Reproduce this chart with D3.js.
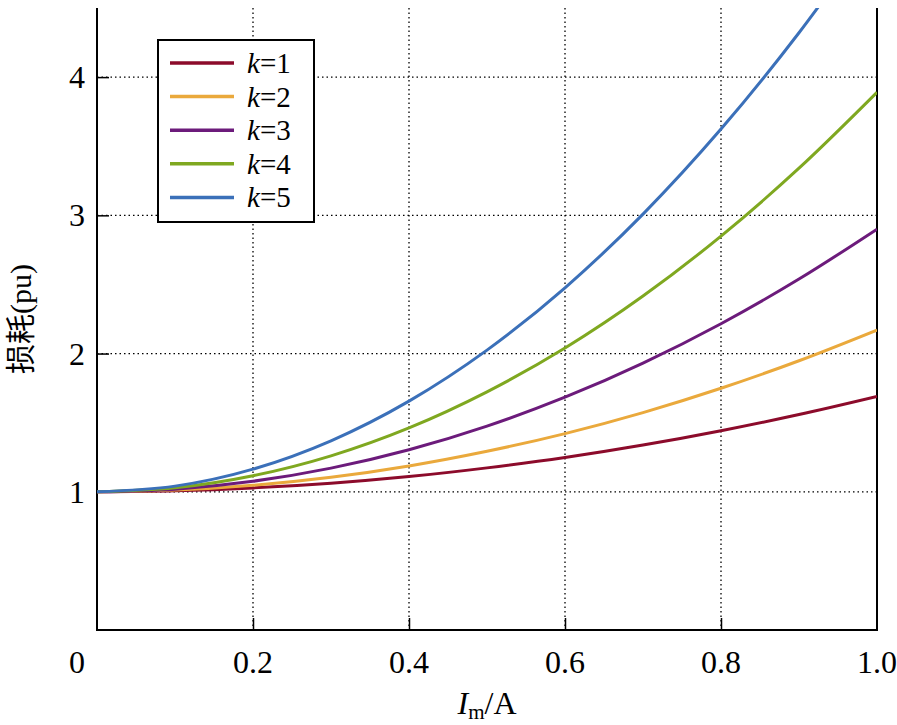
<!DOCTYPE html>
<html>
<head>
<meta charset="utf-8">
<script src="https://cdn.jsdelivr.net/npm/d3@7"></script>
<style>
  body { margin: 0; background: #fff; }
</style>
</head>
<body>
<svg id="chart"></svg>
<script>
// current (A) along x
var xs = [0, 0.1, 0.2, 0.3, 0.4, 0.5, 0.6, 0.7, 0.8, 0.9, 1.0]
// loss (pu) per k
var k1 = [1, 1.007, 1.028, 1.062, 1.11, 1.173, 1.248, 1.338, 1.442, 1.559, 1.69]
var k2 = [1, 1.012, 1.047, 1.105, 1.187, 1.293, 1.421, 1.573, 1.749, 1.948, 2.17]
var k3 = [1, 1.019, 1.076, 1.171, 1.304, 1.475, 1.684, 1.931, 2.216, 2.539, 2.90]
var k4 = [1, 1.029, 1.116, 1.26, 1.462, 1.723, 2.04, 2.416, 2.85, 3.341, 3.89]
var k5 = [1, 1.041, 1.164, 1.369, 1.656, 2.025, 2.476, 3.009, 3.624, 4.321, 5.10]
var seriesNames = ["1", "2", "3", "4", "5"]
var xTicks = [0, 0.2, 0.4, 0.6, 0.8, 1.0]
var yTicks = [1, 2, 3, 4]

var colors = ["#8c0b2b", "#eaa93c", "#6c1b7b", "#7fa820", "#3b70b9"]
var series = [k1, k2, k3, k4, k5]
var serif = "'Liberation Serif', 'Times New Roman', serif"

var W = 897, H = 725
var margin = {top: 8, right: 20, bottom: 95, left: 97}
  , width = W - margin.left - margin.right
  , height = H - margin.top - margin.bottom

var svg = d3.select("#chart").attr("width", W).attr("height", H)

var x = d3.scaleLinear().domain([0, 1]).range([0, width])
var y = d3.scaleLinear().domain([0, 4.5]).range([height, 0])

var g = svg.append("g").attr("transform", "translate(" + margin.left + "," + margin.top + ")")

g.append("clipPath").attr("id", "clip")
  .append("rect").attr("width", width).attr("height", height)

// dotted grid
g.selectAll(".vgrid").data(xTicks.filter(function (d) { return d > 0 && d < 1 }))
  .enter().append("line")
  .attr("x1", function (d) { return x(d) }).attr("x2", function (d) { return x(d) })
  .attr("y1", 0).attr("y2", height)
  .attr("stroke", "#000").attr("stroke-width", 1.3).attr("stroke-dasharray", "1.5,3")
g.selectAll(".hgrid").data(yTicks)
  .enter().append("line")
  .attr("y1", function (d) { return y(d) }).attr("y2", function (d) { return y(d) })
  .attr("x1", 0).attr("x2", width)
  .attr("stroke", "#000").attr("stroke-width", 1.3).attr("stroke-dasharray", "1.5,3")

// axes with inward ticks
var xAxis = g.append("g").attr("transform", "translate(0," + height + ")")
  .call(d3.axisBottom(x).tickValues(xTicks.filter(function (d) { return d > 0 && d < 1 }))
    .tickSize(-12).tickFormat(""))
var yAxis = g.append("g")
  .call(d3.axisLeft(y).tickValues(yTicks).tickSize(-12).tickFormat(""))
xAxis.select(".domain").remove()
yAxis.select(".domain").remove()
svg.selectAll(".tick line").attr("stroke", "#000").attr("stroke-width", 1.5)

// frame: left, bottom, right
g.append("path")
  .attr("d", "M0,0V" + height + "H" + width + "V0")
  .attr("fill", "none").attr("stroke", "#000").attr("stroke-width", 2)

// tick labels
g.selectAll(".xlab").data(xTicks).enter().append("text")
  .attr("x", function (d) { return d === 0 ? x(d) - 20 : x(d) })
  .attr("y", height + 43)
  .attr("text-anchor", "middle")
  .attr("font-family", serif)
  .attr("font-size", 32)
  .text(function (d) { return d === 0 ? "0" : d.toFixed(1) })
g.selectAll(".ylab").data(yTicks).enter().append("text")
  .attr("x", -12)
  .attr("y", function (d) { return y(d) + 11 })
  .attr("text-anchor", "end")
  .attr("font-family", serif)
  .attr("font-size", 32)
  .text(function (d) { return d })

// lines
var line = d3.line()
  .x(function (d, i) { return x(xs[i]) })
  .y(function (d) { return y(d) })
  .curve(d3.curveMonotoneX)

g.append("g").attr("clip-path", "url(#clip)")
  .selectAll(".curve").data(series).enter().append("path")
  .attr("fill", "none")
  .attr("stroke", function (d, i) { return colors[i] })
  .attr("stroke-width", 3)
  .attr("d", line)

// axis titles
var xt = svg.append("text")
  .attr("x", margin.left + width / 2)
  .attr("y", H - 11)
  .attr("text-anchor", "middle")
  .attr("font-family", serif)
  .attr("font-size", 32)
xt.append("tspan").attr("font-style", "italic").text("I")
xt.append("tspan").attr("font-size", 21).attr("dy", 5).text("m")
xt.append("tspan").attr("dy", -5).text("/A")

svg.append("text")
  .attr("transform", "translate(31," + (margin.top + y(2.25)) + ") rotate(-90)")
  .attr("text-anchor", "middle")
  .attr("font-size", 30)
  .attr("font-family", "'Liberation Serif', 'Noto Sans CJK SC', serif")
  .text("损耗(pu)")

// legend
var lg = svg.append("g").attr("transform", "translate(158,40)")
lg.append("rect").attr("width", 156).attr("height", 182)
  .attr("fill", "#fff").attr("stroke", "#000").attr("stroke-width", 2)
var rows = lg.selectAll(".row").data(seriesNames).enter().append("g")
  .attr("transform", function (d, i) { return "translate(0," + (23 + i * 33.6) + ")" })
rows.append("line")
  .attr("x1", 12).attr("x2", 76)
  .attr("stroke", function (d, i) { return colors[i] })
  .attr("stroke-width", 3.5)
var lt = rows.append("text").attr("x", 89).attr("y", 10)
  .attr("font-family", serif).attr("font-size", 29)
lt.append("tspan").attr("font-style", "italic").text("k")
lt.append("tspan").text(function (d) { return "=" + d })
</script>
</body>
</html>
